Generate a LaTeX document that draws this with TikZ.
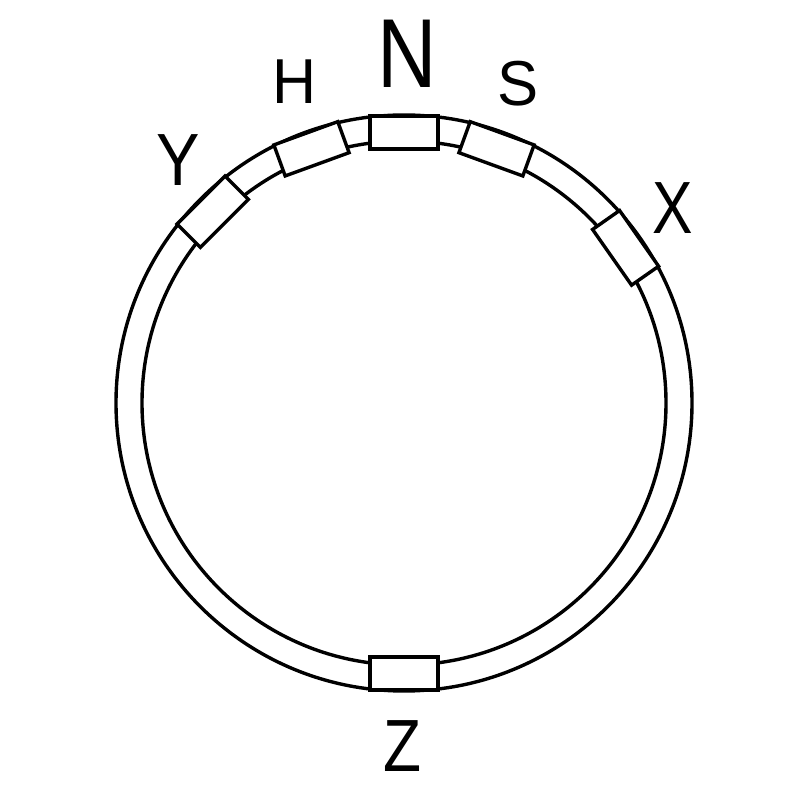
\documentclass[tikz,border=0pt]{standalone}
\usepackage{fontspec}
\setmainfont{Liberation Sans}
\begin{document}
\begin{tikzpicture}[x=1pt,y=1pt,
  ring/.style={line width=3.4pt},
  box/.style={draw,line width=3.4pt,fill=white,rectangle,inner sep=0pt,
    minimum width=68pt,minimum height=33pt},
  lbl/.style={inner sep=0pt}]
\useasboundingbox (0,0) rectangle (800,800);
\coordinate (C) at (404,397);
\draw[ring] (C) circle[radius=288];
\draw[ring] (C) circle[radius=262];
\foreach \a/\n in {90/N,110/H,70/S,135/Y,35/X,270/Z}{
  \pgfmathsetmacro{\r}{\a-90}
  \node[box,rotate=\r] (b\n) at ([shift={(\a:270.5)}]C) {};
}
\node[lbl,xscale=0.84] (lN) at (407,746) {\fontsize{98}{98}\selectfont N};
\node[lbl,xscale=0.96] (lH) at (295,718) {\fontsize{63.5}{63.5}\selectfont H};
\node[lbl,xscale=0.97] (lS) at (518,716) {\fontsize{63.5}{63.5}\selectfont S};
\node[lbl,xscale=0.88] (lY) at (178,640) {\fontsize{74}{74}\selectfont Y};
\node[lbl,xscale=0.82] (lX) at (673,592) {\fontsize{74}{74}\selectfont X};
\node[lbl,xscale=0.84] (lZ) at (402,54) {\fontsize{74}{74}\selectfont Z};
\end{tikzpicture}
\end{document}
